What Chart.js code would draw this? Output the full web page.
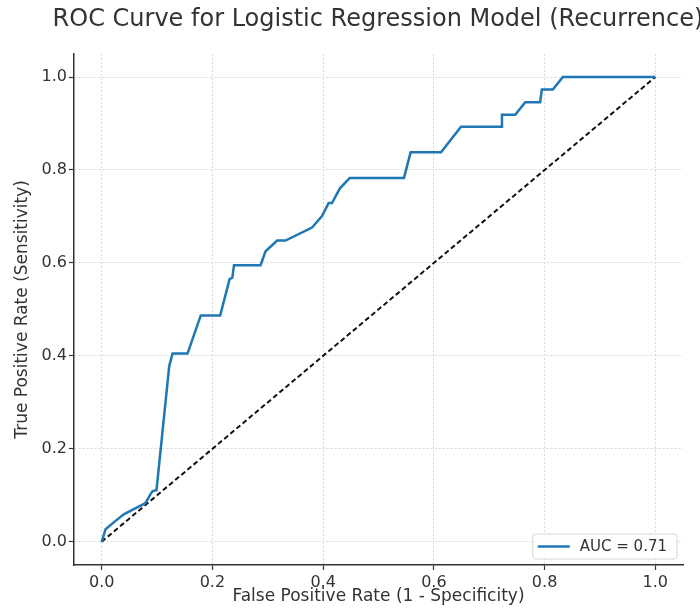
<!DOCTYPE html>
<html>
<head>
<meta charset="utf-8">
<script src="https://cdn.jsdelivr.net/npm/chart.js@4.4.1/dist/chart.umd.min.js"></script>
<style>
  html, body { margin: 0; padding: 0; background: #fff; overflow: hidden; }
  #wrap { position: relative; width: 756px; height: 610px; }
</style>
</head>
<body>
<div id="wrap"><canvas id="roc"></canvas></div>
<script>
// ROC points
const fpr = [0, 0.007, 0.025, 0.04, 0.058, 0.079, 0.088, 0.092, 0.099, 0.122, 0.128, 0.155,
  0.179, 0.214, 0.231, 0.236, 0.239, 0.287, 0.296, 0.317, 0.332, 0.380, 0.398, 0.410,
  0.416, 0.430, 0.448, 0.546, 0.558, 0.613, 0.649, 0.723, 0.723, 0.747, 0.765, 0.792,
  0.795, 0.815, 0.833, 1.0];
const tpr = [0, 0.027, 0.045, 0.059, 0.070, 0.083, 0.102, 0.109, 0.111, 0.378, 0.405, 0.405,
  0.487, 0.487, 0.565, 0.568, 0.595, 0.595, 0.625, 0.648, 0.648, 0.676, 0.701, 0.729,
  0.729, 0.760, 0.783, 0.783, 0.838, 0.838, 0.893, 0.893, 0.919, 0.919, 0.946, 0.946,
  0.973, 0.973, 1.0, 1.0];
const chanceX = [0, 1];
const chanceY = [0, 1];
const tickValues = [0, 0.2, 0.4, 0.6, 0.8, 1.0];
const aucLabel = "AUC = 0.71";

const FONT = "'DejaVu Sans', sans-serif";

// legend box in the lower right corner of the plot, like matplotlib's loc="lower right"
const cornerLegend = {
  id: "cornerLegend",
  afterDraw(chart) {
    const { ctx, chartArea } = chart;
    const ds = chart.data.datasets[0];
    ctx.save();
    ctx.font = "15px " + FONT;
    const textW = ctx.measureText(ds.label).width;
    const w = textW + 57, h = 25;
    const x = chartArea.right - 6 - w, y = chartArea.bottom - 6 - h;
    ctx.fillStyle = "rgba(255,255,255,0.85)";
    ctx.strokeStyle = "#d6d6d6";
    ctx.lineWidth = 1;
    ctx.beginPath();
    ctx.roundRect(x, y, w, h, 3);
    ctx.fill();
    ctx.stroke();
    ctx.strokeStyle = ds.borderColor;
    ctx.lineWidth = ds.borderWidth;
    ctx.beginPath();
    ctx.moveTo(x + 5, y + h / 2);
    ctx.lineTo(x + 37, y + h / 2);
    ctx.stroke();
    ctx.fillStyle = "#333";
    ctx.textBaseline = "middle";
    ctx.fillText(ds.label, x + 47, y + h / 2 + 1);
    ctx.restore();
  }
};

function fixedTicks(axis) {
  axis.ticks = tickValues.map(v => ({ value: v }));
}

const gridOpts = {
  color: "#d8d8d8",
  lineWidth: 1,
  drawTicks: true,
  tickLength: 5,
  tickColor: "#333",
  tickWidth: 1.2,
  tickBorderDash: []
};

new Chart(document.getElementById("roc").getContext("2d"), {
  type: "scatter",
  data: {
    datasets: [
      {
        label: aucLabel,
        data: fpr.map((x, i) => ({ x: x, y: tpr[i] })),
        showLine: true,
        borderColor: "#1f77b4",
        borderWidth: 2.5,
        pointRadius: 0,
        tension: 0
      },
      {
        label: "chance",
        data: chanceX.map((x, i) => ({ x: x, y: chanceY[i] })),
        showLine: true,
        borderColor: "#111",
        borderWidth: 2,
        borderDash: [5, 3],
        pointRadius: 0
      }
    ]
  },
  options: {
    responsive: true,
    maintainAspectRatio: false,
    animation: false,
    layout: { padding: 0 },
    plugins: {
      legend: { display: false },
      tooltip: { enabled: false },
      title: {
        display: true,
        text: "ROC Curve for Logistic Regression Model (Recurrence)",
        color: "#333",
        font: { family: FONT, size: 24, weight: "normal" },
        padding: { top: 5, bottom: 20 }
      }
    },
    scales: {
      x: {
        type: "linear",
        min: -0.05,
        max: 1.05,
        afterBuildTicks: fixedTicks,
        afterFit: s => { s.height = 45; },
        grid: gridOpts,
        border: { display: true, color: "#333", width: 1.5, dash: [2, 2] },
        ticks: {
          color: "#333",
          padding: 3,
          font: { family: FONT, size: 16 },
          callback: v => v.toFixed(1)
        },
        title: {
          display: true,
          text: "False Positive Rate (1 - Specificity)",
          color: "#333",
          font: { family: FONT, size: 17 },
          padding: { top: 0, bottom: 3 }
        }
      },
      y: {
        type: "linear",
        min: -0.05,
        max: 1.05,
        afterBuildTicks: fixedTicks,
        afterFit: s => { s.width = 74; },
        grid: gridOpts,
        border: { display: true, color: "#333", width: 1.5, dash: [2, 2] },
        ticks: {
          color: "#333",
          padding: 2,
          font: { family: FONT, size: 16 },
          callback: v => v.toFixed(1)
        },
        title: {
          display: true,
          text: "True Positive Rate (Sensitivity)",
          color: "#333",
          font: { family: FONT, size: 17 },
          padding: { top: 12, bottom: 4 }
        }
      },
      // empty right-hand axis: only reserves the margin so the title stays centred over the plot
      spacer: {
        type: "linear",
        position: "right",
        min: 0,
        max: 1,
        afterFit: s => { s.width = 73; },
        grid: { display: false, drawTicks: false },
        border: { display: false },
        ticks: { display: false }
      }
    }
  },
  plugins: [cornerLegend]
});
</script>
</body>
</html>
